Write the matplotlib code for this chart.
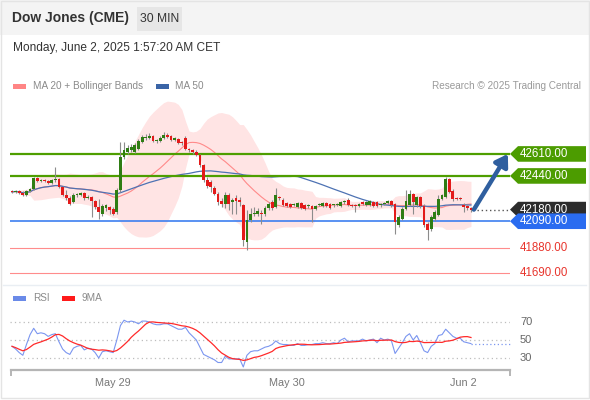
import numpy as np
import pandas as pd
import matplotlib
matplotlib.use("Agg")
import matplotlib.pyplot as plt
from matplotlib.patches import Rectangle, Polygon
from matplotlib.lines import Line2D
from matplotlib.transforms import blended_transform_factory

plt.rcParams['font.family'] = ['Liberation Sans', 'DejaVu Sans']

# ---- 30-minute OHLC bars, Dow Jones futures (CME) ----
opens = [42324, 42316, 42324, 42309, 42293, 42324, 42340, 42425, 42401, 42409,
         42401, 42386, 42409, 42417, 42355, 42293, 42270, 42239, 42293, 42293,
         42309, 42270, 42278, 42247, 42200, 42146, 42193, 42200, 42185, 42162,
         42332, 42587, 42625, 42641, 42625, 42649, 42703, 42734, 42734, 42749,
         42710, 42710, 42734, 42757, 42749, 42718, 42726, 42703, 42734, 42649,
         42641, 42625, 42602, 42525, 42409, 42394, 42347, 42301, 42247, 42224,
         42293, 42239, 42270, 42255, 42216, 41930, 42100, 42146, 42146, 42154,
         42146, 42193, 42239, 42200, 42278, 42255, 42231, 42224, 42216, 42200,
         42231, 42216, 42208, 42208, 42185, 42216, 42208, 42231, 42224, 42216,
         42216, 42208, 42239, 42255, 42216, 42216, 42208, 42239, 42216, 42216,
         42239, 42239, 42216, 42224, 42231, 42247, 42224, 42061, 42108, 42185,
         42216, 42301, 42216, 42278, 42208, 42069, 42031, 42108, 42139, 42262,
         42278, 42417, 42324, 42270, 42270, 42216, 42208, 42193]
highs = [42332, 42332, 42332, 42324, 42332, 42347, 42432, 42432, 42417, 42417,
         42409, 42417, 42510, 42425, 42363, 42332, 42285, 42309, 42309, 42316,
         42316, 42293, 42285, 42255, 42262, 42224, 42224, 42208, 42200, 42347,
         42703, 42703, 42680, 42687, 42695, 42726, 42757, 42765, 42772, 42757,
         42726, 42749, 42780, 42772, 42757, 42741, 42734, 42710, 42749, 42656,
         42649, 42641, 42610, 42533, 42432, 42409, 42363, 42316, 42270, 42316,
         42309, 42270, 42293, 42278, 42224, 42177, 42193, 42200, 42193, 42177,
         42208, 42239, 42255, 42347, 42285, 42270, 42239, 42231, 42231, 42239,
         42239, 42224, 42224, 42216, 42216, 42231, 42239, 42239, 42231, 42224,
         42231, 42247, 42255, 42270, 42224, 42224, 42231, 42247, 42247, 42255,
         42247, 42247, 42231, 42239, 42255, 42255, 42231, 42139, 42200, 42332,
         42332, 42309, 42285, 42285, 42224, 42085, 42139, 42177, 42293, 42301,
         42432, 42425, 42340, 42278, 42278, 42231, 42216, 42200]
lows = [42309, 42309, 42301, 42285, 42285, 42316, 42332, 42394, 42394, 42394,
        42378, 42378, 42394, 42347, 42285, 42255, 42216, 42231, 42278, 42285,
        42255, 42262, 42123, 42185, 42108, 42131, 42170, 42146, 42139, 42146,
        42316, 42571, 42610, 42625, 42618, 42641, 42695, 42718, 42726, 42703,
        42695, 42703, 42726, 42734, 42710, 42710, 42687, 42680, 42641, 42625,
        42610, 42595, 42510, 42394, 42347, 42316, 42293, 42216, 42200, 42193,
        42177, 42146, 42146, 42208, 41899, 41868, 42085, 42131, 42131, 42069,
        42131, 42177, 42177, 42193, 42255, 42208, 42200, 42193, 42208, 42193,
        42185, 42177, 42193, 42085, 42177, 42208, 42200, 42200, 42185, 42200,
        42208, 42200, 42224, 42208, 42200, 42162, 42200, 42216, 42208, 42208,
        42200, 42200, 42200, 42216, 42224, 42200, 41992, 42046, 42100, 42177,
        42208, 42146, 42200, 42193, 42046, 41945, 42015, 42092, 42131, 42255,
        42270, 42309, 42247, 42255, 42255, 42162, 42177, 42162]
closes = [42316, 42324, 42309, 42293, 42324, 42340, 42425, 42401, 42409, 42401,
          42386, 42409, 42417, 42355, 42293, 42270, 42224, 42293, 42293, 42309,
          42270, 42278, 42247, 42200, 42162, 42208, 42216, 42177, 42146, 42332,
          42587, 42641, 42656, 42664, 42680, 42710, 42741, 42741, 42749, 42710,
          42710, 42734, 42757, 42741, 42718, 42734, 42695, 42695, 42649, 42641,
          42625, 42602, 42525, 42409, 42363, 42355, 42301, 42239, 42224, 42293,
          42224, 42255, 42247, 42239, 41945, 42100, 42146, 42154, 42170, 42146,
          42193, 42224, 42193, 42293, 42270, 42216, 42208, 42200, 42216, 42231,
          42193, 42185, 42208, 42185, 42208, 42224, 42231, 42208, 42193, 42216,
          42224, 42239, 42239, 42216, 42208, 42208, 42224, 42224, 42239, 42247,
          42208, 42208, 42216, 42231, 42247, 42216, 42085, 42123, 42185, 42247,
          42301, 42239, 42278, 42208, 42061, 42023, 42123, 42162, 42262, 42293,
          42417, 42316, 42262, 42262, 42262, 42200, 42193, 42180]

# RSI(14) readings per bar
rsi = [43, 40, 36, 33, 45, 56, 63, 57, 58, 57,
       54, 56, 57, 48, 40, 36, 34, 41, 43, 44,
       39, 41, 40, 36, 30, 37, 38, 37, 36, 50,
       66, 72, 70, 71, 70, 68, 71, 71, 70, 68,
       67, 67, 68, 68, 66, 64, 62, 62, 64, 58,
       54, 50, 42, 34, 32, 30, 28, 25, 25, 32,
       29, 29, 29, 29, 20, 33, 37, 38, 38, 40,
       42, 43, 45, 49, 46, 45, 45, 44, 44, 46,
       44, 44, 45, 45, 46, 46, 47, 46, 46, 47,
       46, 50, 52, 48, 49, 49, 49, 51, 49, 50,
       51, 47, 52, 50, 51, 49, 35, 41, 47, 54,
       57, 50, 55, 47, 38, 36, 43, 46, 55, 56,
       62, 58, 54, 52, 52, 48, 47, 46]

resistances = [42610, 42440]
last_price = 42180
pivot = 42090
supports = [41880, 41690]
rsi_levels = [70, 50, 30]
date_ticks = [28, 76, 125]
date_labels = ['May 29', 'May 30', 'Jun 2']

W, H = 590, 400
fig = plt.figure(figsize=(W / 100, H / 100), dpi=100)
fig.patch.set_facecolor('white')


def fx(px):
    return px / W


def fy(py):
    return 1 - py / H


def px_axes(x0, y0, x1, y1):
    a = fig.add_axes([fx(x0), fy(y1), (x1 - x0) / W, (y1 - y0) / H])
    a.set_axis_off()
    return a


# ---- header ----
fig.add_artist(Rectangle((0, fy(35)), 1, 35 / H, transform=fig.transFigure,
                         facecolor='#f4f4f4', edgecolor='none', zorder=0))
fig.add_artist(Rectangle((fx(137), fy(31)), 45 / W, 24 / H, transform=fig.transFigure,
                         facecolor='#e6e6e6', edgecolor='none', zorder=1))
fig.add_artist(Rectangle((fx(1), fy(398)), 588 / W, 397 / H, transform=fig.transFigure,
                         facecolor='none', edgecolor='#e4e4e4', lw=1, zorder=0))
fig.text(fx(12), fy(18), 'Dow Jones (CME)', fontsize=10, fontweight='bold',
         color='#333333', va='center', ha='left')
fig.text(fx(159.5), fy(19), '30 MIN', fontsize=8.7, color='#333333',
         va='center', ha='center')
fig.text(fx(13), fy(48.5), 'Monday, June 2, 2025 1:57:20 AM CET', fontsize=8.6,
         color='#333333', va='center', ha='left')

# legend rows
fig.add_artist(Rectangle((fx(13), fy(88.5)), 13 / W, 5 / H, transform=fig.transFigure,
                         facecolor='#ff8585', edgecolor='none'))
fig.text(fx(33), fy(86), 'MA 20 + Bollinger Bands', fontsize=7.2, color='#8a8a8a',
         va='center', ha='left')
fig.add_artist(Rectangle((fx(156), fy(88.5)), 13 / W, 5 / H, transform=fig.transFigure,
                         facecolor='#3a64a6', edgecolor='none'))
fig.text(fx(175), fy(86), 'MA 50', fontsize=7.2, color='#8a8a8a', va='center', ha='left')
fig.text(fx(581), fy(86), 'Research \u00a9 2025 Trading Central', fontsize=7.2,
         color='#9a9a9a', va='center', ha='right')

fig.add_artist(Rectangle((fx(13), fy(300.5)), 13 / W, 5 / H, transform=fig.transFigure,
                         facecolor='#6a8ae8', edgecolor='none'))
fig.text(fx(33), fy(298), 'RSI', fontsize=7.2, color='#8a8a8a', va='center', ha='left')
fig.add_artist(Rectangle((fx(62), fy(300.5)), 13 / W, 5 / H, transform=fig.transFigure,
                         facecolor='#ff1a1a', edgecolor='none'))
fig.text(fx(82), fy(298), '9MA', fontsize=7.2, color='#8a8a8a', va='center', ha='left')

fig.add_artist(Line2D([fx(3), fx(586)], [fy(285), fy(285)], color='#e9eef3', lw=1))

# ---- price panel ----
n = len(closes)
x = np.arange(n)
bar_px = 3.614
xlim = (-2 / bar_px, 498 / bar_px)
ax = px_axes(10, 97, 510, 284)
ax.set_xlim(*xlim)
ax.set_ylim(41605, 43050)
ppx = (43050 - 41605) / 187.0

s = pd.Series(closes, dtype=float)
ma20 = s.rolling(20, min_periods=1).mean()
sd20 = s.rolling(20, min_periods=1).std(ddof=0)
ma50 = s.rolling(50, min_periods=1).mean()

ax.fill_between(x, ma20 - 2 * sd20, ma20 + 2 * sd20, color='#ffe4e4', lw=0, zorder=1)
ax.plot(x, ma20, color='#ff8a8a', lw=0.8, zorder=2)
ax.plot(x, ma50, color='#4d72b3', lw=0.9, zorder=2)

for lv in resistances:
    ax.axhline(lv, color='#4e9e00', lw=1.6, zorder=3)
ax.axhline(pivot, color='#3d7ff0', lw=1.2, zorder=3)
for lv in supports:
    ax.axhline(lv, color='#ff8c8c', lw=0.8, zorder=3)

green, red = '#2f7d14', '#e31a1a'
for i in range(n):
    o, h, l, c = opens[i], highs[i], lows[i], closes[i]
    ax.vlines(i, l, h, color='#8c8c8c', lw=0.8, zorder=4)
    col = green if c >= o else red
    lo = min(o, c)
    ht = max(abs(c - o), 6)
    ax.add_patch(Rectangle((i - 0.39, lo), 0.78, ht, facecolor=col,
                           edgecolor='none', zorder=5))

# last price guide
ax.plot([n + 0.8, xlim[1]], [last_price, last_price], ls=(0, (1, 2)),
        color='#555555', lw=1, zorder=3, clip_on=False)

# projected move
ax.annotate('', xy=(n + 9.2, resistances[0]), xytext=(n - 0.2, last_price),
            arrowprops=dict(arrowstyle='-|>,head_length=0.7,head_width=0.45',
                            color='#2f5f9f', lw=3.2, shrinkA=0, shrinkB=0),
            annotation_clip=False, zorder=6)

tr = blended_transform_factory(ax.transAxes, ax.transData)


def tag(price, face):
    hh = 7.8 * ppx
    pts = [(1.0, price), (1.016, price + hh), (1.152, price + hh),
           (1.152, price - hh), (1.016, price - hh)]
    ax.add_patch(Polygon(pts, closed=True, transform=tr, facecolor=face,
                         edgecolor='none', clip_on=False, zorder=7))
    ax.text(1.02, price, f'{price:.2f}', transform=tr, fontsize=8.3, color='white',
            va='center', ha='left', clip_on=False, zorder=8)


for lv in resistances:
    tag(lv, '#4c9c00')
tag(last_price, '#2c2c2c')
tag(pivot, '#2a6cf0')
for lv in supports:
    ax.text(1.02, lv, f'{lv:.2f}', transform=tr, fontsize=8.3, color='#e8352d',
            va='center', ha='left', clip_on=False)

# ---- RSI panel ----
ax2 = px_axes(10, 291, 510, 369)
ax2.set_xlim(*xlim)
ax2.set_ylim(50 - 29 / 0.9, 50 + 49 / 0.9)
for lv in rsi_levels:
    ax2.axhline(lv, color='#bdbdbd', ls=(0, (1, 2.5)), lw=0.9, zorder=1)
    ax2.text(1.02, lv, str(lv), transform=blended_transform_factory(ax2.transAxes, ax2.transData),
             fontsize=8, color='#666666', va='center', ha='left', clip_on=False)
r = pd.Series(rsi, dtype=float)
ax2.plot(x, r, color='#7b96f0', lw=0.8, zorder=2)
ax2.plot(x, r.rolling(9, min_periods=1).mean(), color='#ff2a2a', lw=0.9, zorder=3)
ax2.plot([n - 1, xlim[1]], [rsi[-1], rsi[-1]], color='#7b96f0', ls=(0, (1, 2)),
         lw=0.9, zorder=2, clip_on=False)

# time axis
fig.add_artist(Line2D([fx(11), fx(510)], [fy(370), fy(370)], color='#b5b5b5', lw=1.6))
fig.add_artist(Line2D([fx(11), fx(11)], [fy(370), fy(375)], color='#b5b5b5', lw=1.4))
fig.add_artist(Line2D([fx(510), fx(510)], [fy(370), fy(375)], color='#b5b5b5', lw=1.4))
trx = blended_transform_factory(ax2.transData, fig.transFigure)
for t, lab in zip(date_ticks, date_labels):
    ax2.text(t, fy(383), lab, transform=trx, fontsize=7.8, color='#777777',
             ha='center', va='center', clip_on=False)

fig.savefig('out.png', dpi=100)
